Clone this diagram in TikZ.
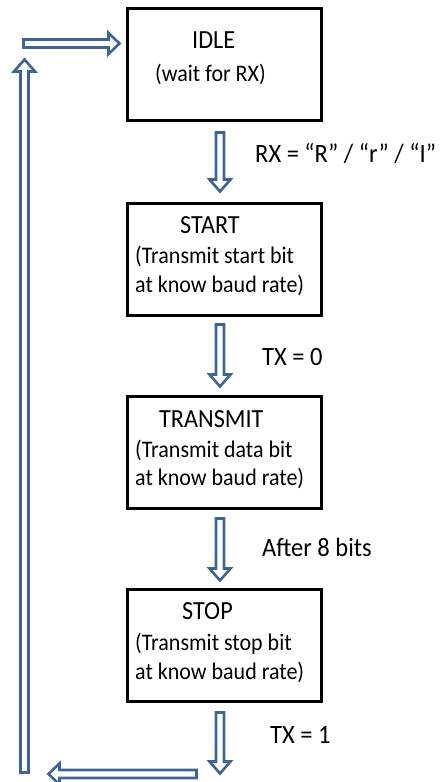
\documentclass[tikz,border=0pt]{standalone}
\usepackage{fontspec}
\setmainfont{Carlito}
\usetikzlibrary{calc}
\definecolor{arrowblue}{RGB}{62,100,150}
\newcommand\tallt[1]{\scalebox{1}[1.08]{#1}}
\newcommand\downblock[2]{\draw[blockarrow] let \p1=(#1),\p2=(#2) in
  (\x1-4pt,\y1) -- (\x1+4pt,\y1) -- (\x1+4pt,\y2+12pt) -- (\x1+10.5pt,\y2+12pt) -- (\x1,\y2)
  -- (\x1-10.5pt,\y2+12pt) -- (\x1-4pt,\y2+12pt) -- cycle;}
\newcommand\upblock[2]{\draw[blockarrow] let \p1=(#1),\p2=(#2) in
  (\x1-4pt,\y1) -- (\x1+4pt,\y1) -- (\x1+4pt,\y2-12pt) -- (\x1+10.5pt,\y2-12pt) -- (\x1,\y2)
  -- (\x1-10.5pt,\y2-12pt) -- (\x1-4pt,\y2-12pt) -- cycle;}
\newcommand\rightblock[2]{\draw[blockarrow] let \p1=(#1),\p2=(#2) in
  (\x1,\y1+4pt) -- (\x2-11pt,\y1+4pt) -- (\x2-11pt,\y1+10.5pt) -- (\x2,\y1)
  -- (\x2-11pt,\y1-10.5pt) -- (\x2-11pt,\y1-4pt) -- (\x1,\y1-4pt) -- cycle;}
\newcommand\leftblock[2]{\draw[blockarrow] let \p1=(#1),\p2=(#2) in
  (\x1,\y1+4pt) -- (\x2+11pt,\y1+4pt) -- (\x2+11pt,\y1+10.5pt) -- (\x2,\y1)
  -- (\x2+11pt,\y1-10.5pt) -- (\x2+11pt,\y1-4pt) -- (\x1,\y1-4pt) -- cycle;}
\begin{document}
\begin{tikzpicture}[x=1pt,y=-1pt,
  statebox/.style={draw=black,line width=3pt,minimum width=194pt,minimum height=112pt,inner sep=0pt},
  txt/.style={anchor=base west,inner sep=0pt,font=\fontsize{22}{26}\selectfont},
  head/.style={txt,font=\fontsize{24.2}{28}\selectfont},
  lbl/.style={txt,font=\fontsize{24.5}{28}\selectfont},
  blockarrow/.style={draw=arrowblue,line width=2.6pt,fill=white}]
\useasboundingbox (0,0) rectangle (441,782);
% state boxes
\node[statebox] (idle) at (224.5,64.5) {};
\node[statebox] (start) at (224.5,259) {};
\node[statebox] (transmit) at (224.5,452) {};
\node[statebox] (stop) at (224.5,645.5) {};
% box texts
\node[head] (t1a) at (192,48) {\tallt{IDLE}};
\node[txt] (t1b) at (155,81) {\tallt{(wait for RX)}};
\node[head] (t2a) at (180,233.5) {\tallt{START}};
\node[txt] (t2b) at (135,263.5) {\tallt{(Transmit start bit}};
\node[txt] (t2c) at (135,292.5) {\tallt{at know baud rate)}};
\node[head] (t3a) at (159,427) {\tallt{TRANSMIT}};
\node[txt] (t3b) at (135,457) {\tallt{(Transmit data bit}};
\node[txt] (t3c) at (135,485.5) {\tallt{at know baud rate)}};
\node[head] (t4a) at (182,619) {\tallt{STOP}};
\node[txt] (t4b) at (135,650) {\tallt{(Transmit stop bit}};
\node[txt] (t4c) at (135,679.5) {\tallt{at know baud rate)}};
% transition labels
\node[lbl] (l1) at (255,162) {\tallt{RX = “R” / “r” / “I”}};
\node[lbl] (l2) at (262,365) {\tallt{TX = 0}};
\node[lbl] (l3) at (262,556) {\tallt{After 8 bits}};
\node[lbl] (l4) at (270,743) {\tallt{TX = 1}};
% arrow end points
\coordinate (a1s) at (220,132.5);
\coordinate (a1e) at (220,191.5);
\coordinate (a2s) at (220,324.5);
\coordinate (a2e) at (220,386.5);
\coordinate (a3s) at (220,518.5);
\coordinate (a3e) at (220,580.5);
\coordinate (a4s) at (220,712.5);
\coordinate (a4e) at (220,773.5);
\coordinate (bls) at (196.5,774);
\coordinate (ble) at (48.5,774);
\coordinate (lus) at (24.5,772.5);
\coordinate (lue) at (24.5,59.5);
\coordinate (trs) at (23.5,43.5);
\coordinate (tre) at (119.5,43.5);
% arrows
\downblock{a1s}{a1e}
\downblock{a2s}{a2e}
\downblock{a3s}{a3e}
\downblock{a4s}{a4e}
\leftblock{bls}{ble}
\upblock{lus}{lue}
\rightblock{trs}{tre}
\end{tikzpicture}
\end{document}
